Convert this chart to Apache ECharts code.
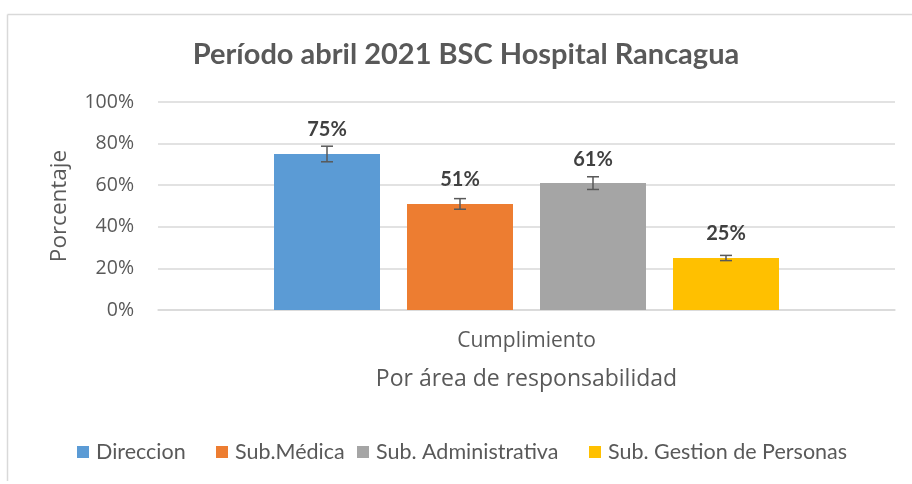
<!DOCTYPE html>
<html>
<head>
<meta charset="utf-8">
<script src="https://cdn.jsdelivr.net/npm/echarts@6/dist/echarts.min.js"></script>
<style>
  html, body { margin: 0; padding: 0; background: #fff; }
  #main { width: 912px; height: 484px; }
</style>
</head>
<body>
<div id="main"></div>
<script>
// datos
const categorias = ['Cumplimiento']
const areas = ['Direccion', 'Sub.Médica', 'Sub. Administrativa', 'Sub. Gestion de Personas']
const valores = [75, 51, 61, 25]
const errores = [3.75, 2.55, 3.05, 1.25]
const colores = ['#5B9BD5', '#ED7D31', '#A5A5A5', '#FFC000']
const ticksY = [0, 20, 40, 60, 80, 100]

const FONT = 'Lato'
const FONT2 = 'Open Sans'
const BAR_W = 106
const BAR_GAP = 27
const legendLeft = [77, 216, 357, 589]

let myChart = echarts.init(document.getElementById('main'))

let series = areas.map((name, i) => ({
  name: name,
  type: 'bar',
  barWidth: BAR_W,
  barGap: (BAR_GAP / BAR_W * 100) + '%',
  data: [valores[i]],
  itemStyle: { color: colores[i] },
  label: {
    show: true,
    position: 'top',
    distance: 14,
    formatter: '{c}%',
    fontFamily: FONT,
    fontWeight: 'bold',
    fontSize: 20,
    color: '#404040'
  },
  z: 2
}))

// barras de error
series.push({
  type: 'custom',
  data: valores.map((v, i) => [0, v, errores[i]]),
  z: 5,
  renderItem: function (params, api) {
    let idx = params.dataIndex
    let v = api.value(1)
    let e = api.value(2)
    let c = api.coord([0, v])
    let x = c[0] + (idx - 1.5) * (BAR_W + BAR_GAP)
    let hi = api.coord([0, v + e])[1]
    let lo = api.coord([0, v - e])[1]
    let st = { stroke: '#595959', lineWidth: 1.5 }
    return {
      type: 'group',
      children: [
        { type: 'line', shape: { x1: x, y1: hi, x2: x, y2: lo }, style: st },
        { type: 'line', shape: { x1: x - 6, y1: hi, x2: x + 6, y2: hi }, style: st },
        { type: 'line', shape: { x1: x - 6, y1: lo, x2: x + 6, y2: lo }, style: st }
      ]
    }
  }
})

let legends = areas.map((name, i) => ({
  data: [name],
  left: legendLeft[i],
  top: 441,
  padding: 0,
  icon: 'rect',
  itemWidth: 12,
  itemHeight: 12,
  itemGap: 7,
  textStyle: { fontFamily: FONT, fontSize: 21.5, color: '#595959', padding: [0, 0, 0, 2] }
}))

let option = {
  animation: false,
  backgroundColor: '#fff',
  title: {
    text: 'Período abril 2021 BSC Hospital Rancagua',
    left: 461,
    top: 35,
    textAlign: 'center',
    textStyle: { fontFamily: FONT, fontWeight: 'bold', fontSize: 29, color: '#595959' }
  },
  graphic: [
    { type: 'line', shape: { x1: 7.5, y1: 14.5, x2: 912, y2: 14.5 }, style: { stroke: '#D9D9D9', lineWidth: 1.5 } },
    { type: 'line', shape: { x1: 7.5, y1: 14.5, x2: 7.5, y2: 481 }, style: { stroke: '#D9D9D9', lineWidth: 1.5 } }
  ],
  legend: legends,
  grid: { left: 158, right: 17, top: 102, bottom: 174 },
  xAxis: {
    type: 'category',
    data: categorias,
    axisTick: { show: false },
    axisLine: { lineStyle: { color: '#D9D9D9', width: 1.5 } },
    axisLabel: { margin: 21, fontFamily: FONT2, fontSize: 21, color: '#595959' },
    name: 'Por área de responsabilidad',
    nameLocation: 'middle',
    nameGap: 58,
    nameTextStyle: { fontFamily: FONT2, fontSize: 23, color: '#595959' }
  },
  yAxis: {
    type: 'value',
    min: 0,
    max: 100,
    interval: 20,
    axisLabel: {
      margin: 24,
      fontFamily: FONT2,
      fontSize: 19.5,
      color: '#595959',
      formatter: v => ticksY.includes(v) ? v + '%' : ''
    },
    splitLine: { lineStyle: { color: '#D9D9D9', width: 1.5 } },
    name: 'Porcentaje',
    nameLocation: 'middle',
    nameRotate: 90,
    nameGap: 87,
    nameTextStyle: { fontFamily: FONT2, fontSize: 22.5, color: '#595959' }
  },
  series: series
}

myChart.setOption(option)
</script>
</body>
</html>
